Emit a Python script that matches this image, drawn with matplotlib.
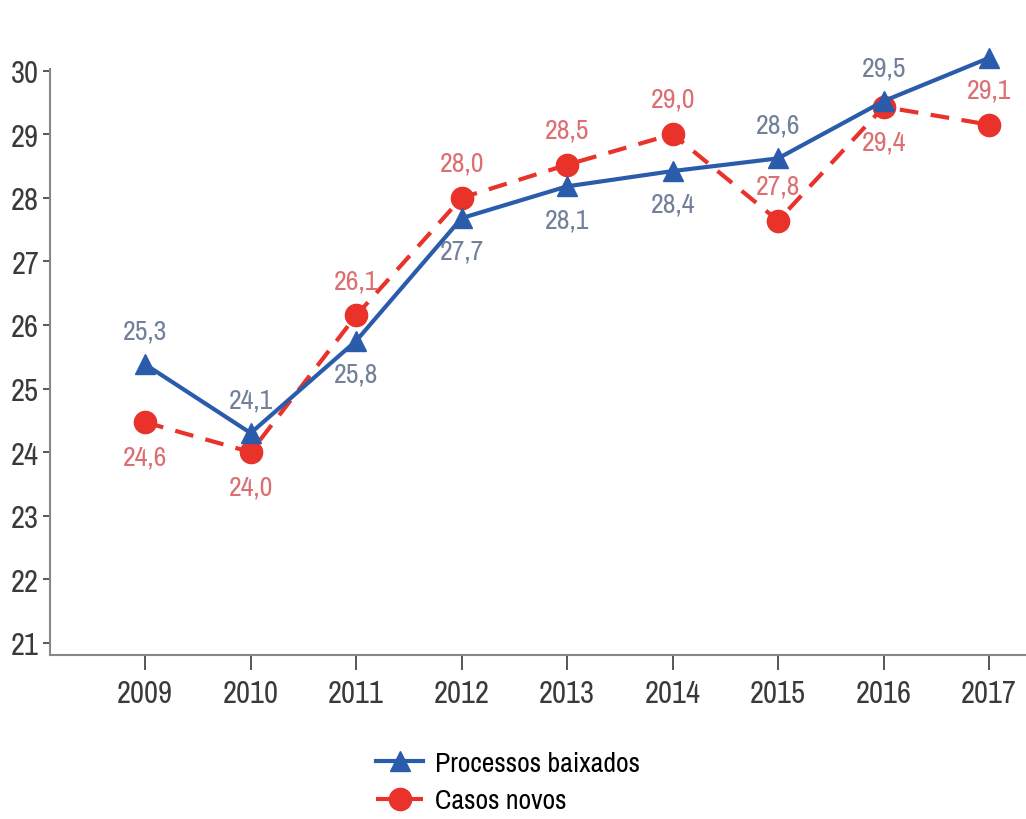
import matplotlib
matplotlib.use("Agg")
import matplotlib.pyplot as plt
from matplotlib import font_manager

names = sorted(set(f.name for f in font_manager.fontManager.ttflist))
narrow = [n for n in names if 'Narrow' in n or 'Condensed' in n]
plt.rcParams['font.family'] = narrow[:1] + ['DejaVu Sans']
plt.rcParams['font.stretch'] = 'condensed'
plt.rcParams['font.weight'] = 'light'

years = [2009, 2010, 2011, 2012, 2013, 2014, 2015, 2016, 2017]

# values as plotted in the picture, labels as printed next to the points
baixados = [25.38, 24.3, 25.75, 27.68, 28.18, 28.42, 28.62, 29.52, 30.2]
baixados_labels = ['25,3', '24,1', '25,8', '27,7', '28,1', '28,4', '28,6', '29,5', '31,0']
baixados_above = [True, True, False, False, False, False, True, True, True]

novos = [24.47, 24.0, 26.15, 28.0, 28.52, 29.0, 27.64, 29.43, 29.15]
novos_labels = ['24,6', '24,0', '26,1', '28,0', '28,5', '29,0', '27,8', '29,4', '29,1']
novos_above = [False, False, True, True, True, True, True, False, True]

blue = '#2b5cab'
red = '#e8322a'
blue_txt = '#72809a'
red_txt = '#dc6f72'

fig = plt.figure(figsize=(10.26, 8.2), dpi=100)
ax = fig.add_axes([0.049, 0.2, 0.951, 0.715])

ax.plot(years, baixados, color=blue, lw=3, marker='^', ms=14,
        label='Processos baixados', zorder=3, clip_on=False)
ax.plot(years, novos, color=red, lw=3, ls=(0, (4.5, 3)), marker='o', ms=16,
        label='Casos novos', zorder=2, clip_on=False)

for x, y, s, up in zip(years, baixados, baixados_labels, baixados_above):
    ax.annotate(s, (x, y), xytext=(0, 24 if up else -24), textcoords='offset points',
                ha='center', va='center', fontsize=20, color=blue_txt)
for x, y, s, up in zip(years, novos, novos_labels, novos_above):
    ax.annotate(s, (x, y), xytext=(0, 25 if up else -25), textcoords='offset points',
                ha='center', va='center', fontsize=20, color=red_txt)

ax.set_xlim(2008.1, 2017.35)
ax.set_ylim(20.81, 30.03)
ax.set_xticks(years)
ax.set_yticks(range(21, 31))
ax.tick_params(labelsize=22, colors='#3a3a3a', width=1.2)
ax.tick_params(axis='y', length=5, pad=3)
ax.tick_params(axis='x', length=11, pad=6)
for side in ['top', 'right']:
    ax.spines[side].set_visible(False)
for side in ['left', 'bottom']:
    ax.spines[side].set_color('#888888')
    ax.spines[side].set_linewidth(1.5)

fig.legend(loc='center', bbox_to_anchor=(0.495, 0.045), frameon=False,
           fontsize=20, handlelength=1.7, handletextpad=0.4, labelspacing=0.45)

fig.savefig('out.png', dpi=100)
